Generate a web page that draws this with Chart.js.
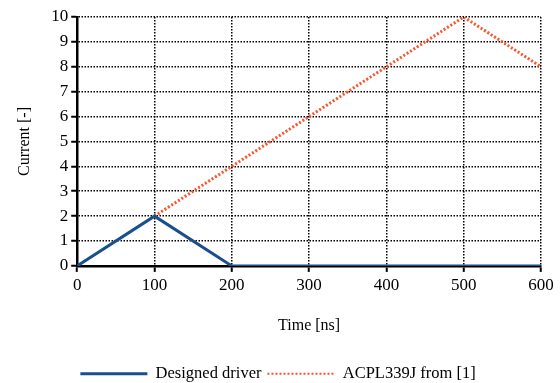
<!DOCTYPE html>
<html>
<head>
<meta charset="utf-8">
<script src="https://cdn.jsdelivr.net/npm/chart.js@4/dist/chart.umd.min.js"></script>
<style>
  html, body { margin: 0; padding: 0; background: #fff; }
  #wrap { width: 560px; height: 383px; }
</style>
</head>
<body>
<div id="wrap"><canvas id="c"></canvas></div>
<script>
var seriesNames = ['Designed driver', 'ACPL339J from [1]'];
var driverTime = [0, 100, 200, 600];
var driverCurrent = [0, 2, 0, 0];
var acplTime = [100, 500, 600];
var acplCurrent = [2, 10, 8];

var toPoints = (xs, ys) => xs.map((x, i) => ({ x: x, y: ys[i] }));

var serif = 'Liberation Serif, Times New Roman, serif';
var legendWidths = [3, 2];

new Chart(document.getElementById('c'), {
  type: 'line',
  data: {
    datasets: [
      {
        label: seriesNames[0],
        data: toPoints(driverTime, driverCurrent),
        borderColor: 'rgb(24, 79, 140)',
        backgroundColor: 'rgb(24, 79, 140)',
        borderWidth: 3,
        pointRadius: 0,
        tension: 0
      },
      {
        label: seriesNames[1],
        data: toPoints(acplTime, acplCurrent),
        borderColor: 'rgb(250, 84, 44)',
        backgroundColor: 'rgb(250, 84, 44)',
        borderWidth: 3,
        borderDash: [2, 2],
        pointRadius: 0,
        tension: 0
      }
    ]
  },
  options: {
    responsive: true,
    maintainAspectRatio: false,
    animation: false,
    layout: { padding: { left: 15, right: 19, top: 17, bottom: -9 } },
    plugins: {
      tooltip: { enabled: false },
      legend: {
        position: 'bottom',
        labels: {
          usePointStyle: true,
          pointStyle: 'line',
          pointStyleWidth: 67,
          boxHeight: 14,
          color: '#000',
          padding: 6,
          font: { family: serif, size: 16.5 },
          generateLabels: function (chart) {
            var items = Chart.defaults.plugins.legend.labels.generateLabels(chart);
            items.forEach(function (it) {
              var ds = chart.data.datasets[it.datasetIndex];
              it.lineDash = ds.borderDash || [];
              it.lineWidth = legendWidths[it.datasetIndex];
              it.strokeStyle = ds.borderColor;
            });
            return items;
          }
        }
      }
    },
    scales: {
      x: {
        type: 'linear',
        min: 0,
        max: 600,
        ticks: { stepSize: 100, color: '#000', padding: 3, font: { family: serif, size: 17 } },
        grid: {
          color: '#000',
          lineWidth: 1.5,
          tickLength: 6,
          tickColor: '#000',
          tickWidth: 2,
          tickBorderDash: []
        },
        border: { display: true, color: '#000', width: 2.5, dash: [1.5, 1.5] },
        title: {
          display: true,
          text: 'Time [ns]',
          color: '#000',
          padding: { top: 18, bottom: 24 },
          font: { family: serif, size: 16 }
        }
      },
      y: {
        min: 0,
        max: 10,
        ticks: { stepSize: 1, color: '#000', padding: 3, font: { family: serif, size: 17 } },
        grid: {
          color: '#000',
          lineWidth: 1.5,
          tickLength: 6,
          tickColor: '#000',
          tickWidth: 2,
          tickBorderDash: []
        },
        border: { display: true, color: '#000', width: 2.5, dash: [1.5, 1.5] },
        title: {
          display: true,
          text: 'Current [-]',
          color: '#000',
          padding: { top: 0, bottom: 14 },
          font: { family: serif, size: 16 }
        }
      }
    }
  }
});
</script>
</body>
</html>
